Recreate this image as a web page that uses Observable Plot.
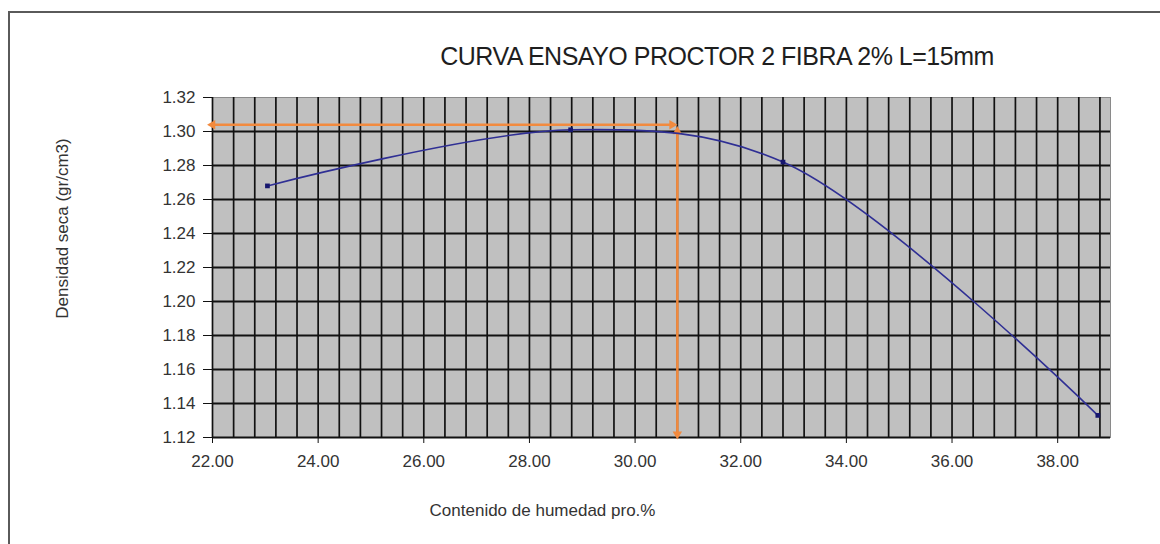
<!DOCTYPE html>
<html>
<head>
<meta charset="utf-8">
<script src="https://cdn.jsdelivr.net/npm/d3@7"></script>
<script src="https://cdn.jsdelivr.net/npm/@observablehq/plot@0.6"></script>
<style>
  html, body { margin: 0; padding: 0; background: #fff; width: 1160px; height: 544px; overflow: hidden; }
  #wrap { position: relative; width: 1160px; height: 544px; font-family: "Liberation Sans", Arial, sans-serif; }
  #border { position: absolute; left: 8px; top: 11px; width: 1200px; height: 600px; border: 2px solid #5a5a5a; box-sizing: border-box; pointer-events: none; }
  #title { box-sizing: border-box; width: 1160px; height: 80px; padding-top: 44px; padding-left: 274px; text-align: center; font-size: 25px; line-height: 25px; letter-spacing: -0.5px; color: #1e1e1e; }
  #chart svg { display: block; }
</style>
</head>
<body>
<div id="wrap">
  <div id="border"></div>
  <div id="title">CURVA ENSAYO PROCTOR 2 FIBRA 2% L=15mm</div>
  <div id="chart"></div>
</div>
<script>
// Data
const humedad = [23.04, 28.78, 32.80, 38.76];          // Contenido de humedad (%)
const densidad = [1.268, 1.301, 1.282, 1.133];         // Densidad seca (gr/cm3)

// Orange guide lines (optimum)
const guideHumedad = [22.0, 30.7];   // horizontal guide x-extent
const guideDensidad = 1.304;         // horizontal guide y
const optimoHumedad = 30.8;          // vertical guide x
const guideVertical = [1.300, 1.122];// vertical guide y-extent

// Tick labels
const xTicks = [22, 24, 26, 28, 30, 32, 34, 36, 38];
const yTicks = [1.12, 1.14, 1.16, 1.18, 1.20, 1.22, 1.24, 1.26, 1.28, 1.30, 1.32];
const xMinorGrid = d3.range(0, 43).map(i => +(22 + i * 0.4).toFixed(1));

const xLabel = "Contenido de humedad pro.%";
const yLabel = "Densidad seca (gr/cm3)";

const points = humedad.map((h, i) => ({h, d: densidad[i]}));
const hGuide = [{x1: guideHumedad[0], x2: guideHumedad[1], y1: guideDensidad, y2: guideDensidad}];
const vGuide = [{x1: optimoHumedad, x2: optimoHumedad, y1: guideVertical[0], y2: guideVertical[1]}];
const heads = [
  {x: guideHumedad[0], y: guideDensidad, r: -90},
  {x: guideHumedad[1], y: guideDensidad, r: 90},
  {x: optimoHumedad, y: guideVertical[0], r: 0},
  {x: optimoHumedad, y: guideVertical[1], r: 180}
];

const orange = "#f28a3e";
const fmt = d3.format(".2f");

const chart = Plot.plot({
  width: 1160,
  height: 464,
  marginTop: 17,
  marginBottom: 107,
  marginLeft: 212,
  marginRight: 50,
  style: {fontFamily: "'Liberation Sans', Arial, sans-serif", fontSize: "17px", color: "#333", background: "transparent", overflow: "visible"},
  x: {domain: [22, 39]},
  y: {domain: [1.12, 1.32]},
  marks: [
    Plot.frame({fill: "#c0c0c0", stroke: "#8a8a8a", strokeWidth: 1}),
    Plot.ruleX(xMinorGrid, {stroke: "#111", strokeWidth: 1.7}),
    Plot.ruleY(yTicks.filter(v => v < 1.32), {stroke: "#111", strokeWidth: 2}),
    Plot.axisX(xTicks, {tickFormat: fmt, tickSize: 6, tickPadding: 11, label: null, fontSize: 17, stroke: "#111", fill: "#333"}),
    Plot.axisY(yTicks, {tickFormat: fmt, tickSize: 9, tickPadding: 8, label: null, fontSize: 17, stroke: "#111", fill: "#333"}),
    Plot.link(hGuide, {x1: "x1", x2: "x2", y1: "y1", y2: "y2", stroke: orange, strokeWidth: 2.5}),
    Plot.link(vGuide, {x1: "x1", x2: "x2", y1: "y1", y2: "y2", stroke: orange, strokeWidth: 2.5}),
    Plot.dot(heads, {x: "x", y: "y", rotate: "r", symbol: "triangle2", r: 4.5, fill: orange}),
    Plot.line(points, {x: "h", y: "d", curve: "catmull-rom", stroke: "#2f2f94", strokeWidth: 1.6}),
    Plot.dot(points, {x: "h", y: "d", symbol: "square2", r: 3, fill: "#16166e"}),
    Plot.text([yLabel], {frameAnchor: "left", textAnchor: "middle", lineAnchor: "middle", rotate: -90, dx: -150, dy: -39, fontSize: 17, fill: "#333"}),
    Plot.text([xLabel], {frameAnchor: "bottom", textAnchor: "middle", lineAnchor: "middle", dx: -119, dy: 73, fontSize: 17, fill: "#333"})
  ]
});
document.getElementById("chart").appendChild(chart);
</script>
</body>
</html>
